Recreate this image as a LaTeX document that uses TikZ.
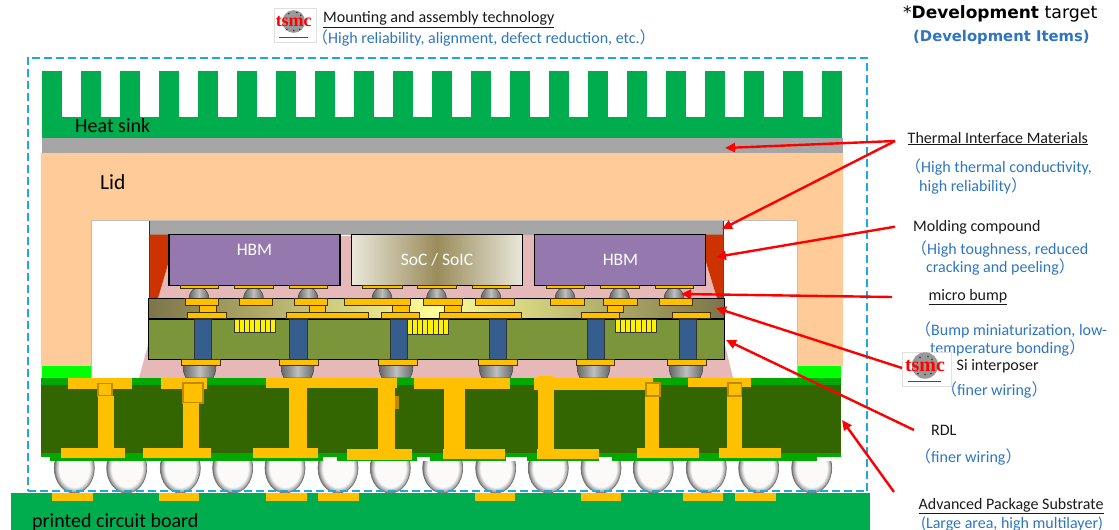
\documentclass[tikz,border=0pt]{standalone}
\usepackage{fontspec}
\usetikzlibrary{arrows.meta,shadings}
\setmainfont{Carlito}
\newfontfamily\cjkf{Noto Sans CJK JP}
\newfontfamily\devf{DejaVu Sans}
\newfontfamily\logof{Liberation Serif}
\definecolor{fingreen}{HTML}{00AD4E}
\definecolor{timgray}{HTML}{A6A6A6}
\definecolor{lidc}{HTML}{FFCB98}
\definecolor{brightg}{HTML}{00FF00}
\definecolor{pinkc}{HTML}{E6B8B7}
\definecolor{molr}{HTML}{CC3300}
\definecolor{hbmc}{HTML}{9579AE}
\definecolor{sila}{HTML}{7A953A}
\definecolor{tsvb}{HTML}{355E8F}
\definecolor{gold}{HTML}{FFC000}
\definecolor{goldd}{HTML}{C08A00}
\definecolor{maskg}{HTML}{00A800}
\definecolor{subg}{HTML}{336600}
\definecolor{dashc}{HTML}{1CA8E0}
\definecolor{bluet}{HTML}{2E75C0}
\definecolor{socl}{HTML}{E9E7DA}
\definecolor{socd}{HTML}{9A8C5A}
\definecolor{rdld}{HTML}{7C7448}
\definecolor{rdll}{HTML}{FFFF99}
\definecolor{ballw}{HTML}{FBFAF8}
\pgfdeclareradialshading{ballsh}{\pgfpoint{0bp}{0bp}}{color(0bp)=(ballw);color(19bp)=(ballw);color(24bp)=(black!40);color(25bp)=(black!60);color(50bp)=(black!60)}
\pgfdeclarehorizontalshading{bumpsh}{100bp}{color(0bp)=(black!60);color(25bp)=(black!60);color(50bp)=(black!25);color(75bp)=(black!60);color(100bp)=(black!60)}
\tikzset{
  lab/.style={anchor=base west,inner sep=0pt,font=\fontsize{16}{18}\selectfont,text=black!90},
  blab/.style={lab,text=bluet},
  big/.style={anchor=base west,inner sep=0pt,font=\fontsize{20}{22}\selectfont,text=black},
  ptr/.style={draw=red,line width=2.4pt,-{Triangle[length=10pt,width=9pt]}},
  pad/.style={fill=gold,draw=black!75!gold,line width=.9pt},
  cu/.style={fill=gold},
  sq/.style={fill=gold,draw=goldd,line width=1.2pt},
  tsv/.style={fill=tsvb,draw=black!80,line width=1pt},
  comb/.style={fill=yellow,draw=black!80,line width=.9pt},
  die/.style={draw=black,line width=1.1pt},
  diet/.style={inner sep=0pt,text=white,font=\fontsize{17.5}{18}\selectfont},
}
% #1 x, #2 y, #3 width, #4 tsmc font size, #5 node name
\newcommand{\LogoAt}[5]{%
  \begin{scope}[shift={(#1,#2)}]
  \draw[black!12,fill=white,line width=.5pt] (0,0) rectangle (#3,34);
  \fill[black!40] (#3*.47,13.5) circle ({#3*.27});
  \foreach \a/\b in {-5/-8,3/-9,-7/8,0/9,6/8,7/-6}{\fill[black!80] (#3*.47+\a,13.5+\b) circle (.9);}
  \node[inner sep=0pt,text=red] (#5) at (#3*.47,14) {\logof\bfseries\fontsize{#4}{12}\selectfont tsmc};
  \draw[red,line width=.9pt] (#3*.13,29.5) -- (#3*.8,29.5);
  \end{scope}}
\begin{document}
\begin{tikzpicture}[x=1pt,y=-1pt]
\useasboundingbox (0,0) rectangle (1119,530);
% solder balls
\foreach \c in {74.3,126.7,180.3,232.7,285,338,390.3,442.7,495.7,548.3,601,653.3,706.3,758.7,811.7}{
  \shade[shading=ballsh,draw=black!55,line width=.7pt] (\c,468) ellipse (20 and 25);
}
% heat sink
\fill[fingreen] (42,117) rectangle (842,138);
\foreach \i in {0,...,20}{\fill[fingreen] ({42+39*\i},71) rectangle ({61.7+39*\i},117);}
\fill[timgray] (42,138) rectangle (843,153);
% lid
\fill[lidc] (41,153) -- (843,153) -- (843,366) -- (41,366) -- cycle;
\fill[brightg] (41.5,366) rectangle (91.5,378);
\fill[brightg] (797,366) rectangle (841,378);
\draw[black!25,fill=white,line width=.6pt] (91.5,378) -- (91.5,220.5) -- (797,220.5) -- (797,378);
% pink underfill
\fill[pinkc] (168,234) -- (706,234) -- (717,298) -- (725,345) -- (733,378) -- (139,378) -- (148,345) -- (158,298) -- cycle;
% TIM 2
\fill[timgray] (149,220.5) rectangle (723,234.5);
\draw[black!80,line width=.8pt] (149,220.5) -- (149,298);
\draw[black!80,line width=.8pt] (723.5,220.5) -- (723.5,298);
% molding compound
\fill[molr] (149.5,234.5) -- (168,234.5) -- (168,264) -- (158,298) -- (149.5,298) -- cycle;
\fill[molr] (706,234.5) -- (723.5,234.5) -- (723.5,298) -- (717,298) -- (706,262) -- cycle;
% dies
\fill[white] (340,234.5) rectangle (352,236);
\node[die,fill=hbmc,minimum width=171pt,minimum height=51.4pt,inner sep=0pt] (hbma) at (254.5,260) {};
\shade[left color=socl,right color=socd,draw=none] (352,234.5) rectangle (437,285.7);
\shade[left color=socd,right color=socl,draw=none] (437,234.5) rectangle (522.3,285.7);
\node[die,minimum width=170.6pt,minimum height=51.4pt,inner sep=0pt] (soc) at (437,260) {};
\node[die,fill=hbmc,minimum width=171.4pt,minimum height=51.4pt,inner sep=0pt] (hbmb) at (620,260) {};
\node[diet] (t1) at (254.5,250) {HBM};
\node[diet] (t2) at (437,260) {SoC / SoIC};
\node[diet] (t3) at (620.5,260) {HBM};
% micro bumps
\foreach \a/\b in {180/218,234/273,289/327,362/402,417/456,472/510,546/584,600/639,655/693}{
  \shade[shading=bumpsh,draw=black!70,line width=.6pt] ({(\a+\b)/2-10},298.5) .. controls ({(\a+\b)/2-9},290) and ({(\a+\b)/2-5},288) .. ({(\a+\b)/2},288) .. controls ({(\a+\b)/2+5},288) and ({(\a+\b)/2+9},290) .. ({(\a+\b)/2+10},298.5) -- cycle;
  \draw[pad,line width=.7pt] (\a,285.7) rectangle (\b,288.5);
}
% RDL
\shade[left color=rdld,right color=rdll] (148.5,298.5) rectangle (436,319);
\shade[left color=rdll,right color=rdld] (436,298.5) rectangle (724.5,319);
\draw[black,line width=1.1pt] (148.5,298.5) rectangle (724.5,319);
% Si interposer
\node[draw=black,line width=1.1pt,fill=sila,minimum width=576pt,minimum height=40.5pt,inner sep=0pt] (si) at (436.5,339.3) {};
\draw[black,line width=1.6pt] (148.5,319) -- (724.5,319);
% TSV
\foreach \a/\b in {194/211,289/307,390/407,489/506,587/604,679/696}{\draw[tsv] (\a,319.5) rectangle (\b,359);}
% comb
\foreach \a/\t in {234/332.7,407/334,615/332.5}{
  \draw[comb] (\a,319) rectangle ({\a+41.5},\t);
  \foreach \k in {1,...,7}{\draw[black!80,line width=.9pt] ({\a+\k*5.2},319) -- ({\a+\k*5.2},\t);}
}
% RDL pads
\foreach \a/\b in {185/218,239/272,294/327,344/410,423/462,475/514,550/584,603/637,659/692}{\draw[pad] (\a,298) rectangle (\b,305);}
\foreach \a/\b in {199/216,309/325,392/409,444/461,607/623}{\draw[pad] (\a,305) rectangle (\b,312.5);}
\foreach \a/\b in {187/226,286/368,381/419,439/521,581/619,672/710}{\draw[pad] (\a,312.5) rectangle (\b,318.7);}
% C4 bumps
\foreach \a/\b in {183/216,281/314,379/413,479/513,577/610,669/703}{
  \shade[shading=bumpsh,draw=black!70,line width=.6pt] (\a,365.5) .. controls ({\a+.5},372) and ({\a+1},375) .. ({\a+3},378) -- ({\b-3},378) .. controls ({\b-1},375) and ({\b-.5},372) .. (\b,365.5) -- cycle;
}
\foreach \a/\b in {181/220,279/318,378/417,478/517,576/614,667/706}{\draw[pad] (\a,359) rectangle (\b,365.7);}
% substrate
\fill[maskg] (50,453) rectangle (835,460.5);
\foreach \a/\b in {323/337,417/430,506/527,599/612,817/835}{\fill[white] (\a,457) rectangle (\b,461);}
\fill[maskg] (41,378) rectangle (841,392);
\fill[subg] (41,385) rectangle (841,456.7);
\fill[maskg] (41,453) rectangle (841,457);
% copper
\fill[cu] (68,378) rectangle (131.7,388.7);
\draw[sq] (98,383.5) rectangle (112,396);
\fill[cu] (98,396) rectangle (114,448);
\fill[cu] (60.7,448) rectangle (125,458);
\fill[cu] (160.7,378) rectangle (207,388.7);
\draw[sq] (183,383) rectangle (203,403);
\fill[cu] (183,403) rectangle (198.7,448);
\fill[cu] (143,448) rectangle (210.7,458);
\fill[cu] (266,378) rectangle (397,388);
\fill[cu] (288.7,388) rectangle (306.7,448);
\fill[cu] (253,448) rectangle (317.7,458);
\fill[cu] (377.7,388) rectangle (395,449);
\fill[cu] (347,449) rectangle (412,459.5);
\fill[goldd] (395,396) rectangle (399,409);
\fill[cu] (414,378) rectangle (510,388.7);
\fill[cu] (444,388) rectangle (464.7,450);
\fill[cu] (443,449) rectangle (505,459);
\fill[cu] (534,378) rectangle (653,390);
\fill[cu] (538,376) rectangle (554,450);
\fill[cu] (537,449) rectangle (599,459);
\fill[cu] (644.5,396) rectangle (658.7,448);
\draw[sq] (646,383) rectangle (660,396);
\fill[cu] (637,448) rectangle (699,458);
\fill[cu] (688,378) rectangle (750.7,386.7);
\fill[cu] (727,396) rectangle (742.3,448);
\draw[sq] (728,383) rectangle (741.7,396);
\fill[cu] (719,448) rectangle (781,458);
% PCB
\fill[fingreen] (11,493) rectangle (870,530);
\foreach \a/\b in {52/93,159/199,266/307,318/359,475/515,581/621,683/723,735/776}{\fill[cu] (\a,493) rectangle (\b,501);}
% dashed outline
\node[draw=dashc,dash pattern=on 8pt off 4pt,line width=1.8pt,minimum width=839.5pt,minimum height=433.5pt,inner sep=0pt] (frame) at (447.5,274.5) {};
% body labels
\node[big] (hs) at (75,132.5) {Heat sink};
\node[big,font=\fontsize{21.5}{22}\selectfont] (lid) at (100,189) {Lid};
\node[big] (pcb) at (32,527) {printed circuit board};
% top labels
\LogoAt{274}{8}{42}{18}{lgt}
\node[lab] (mnt) at (323,23) {\underline{Mounting and assembly technology}};
\node[blab] (mntb) at (312,43) {{\cjkf （}High reliability, alignment, defect reduction, etc.{\cjkf ）}};
\node[anchor=base west,inner sep=0pt,font=\devf\fontsize{17}{18}\selectfont] (dev) at (903,19) {*\textbf{Development} {\fontsize{17.4}{18}\selectfont target}};
\node[anchor=base west,inner sep=0pt,font=\devf\fontsize{14.8}{18}\selectfont\bfseries,text=bluet] (devb) at (913,41.5) {(Development Items)};
% right labels
\node[lab] (tim) at (907.5,143) {\underline{Thermal Interface Materials}};
\node[blab] (tima) at (905,172) {{\cjkf （}High thermal conductivity,};
\node[blab] (timb) at (919,191) {high reliability{\cjkf ）}};
\node[lab] (mc) at (913,231) {Molding compound};
\node[blab] (mca) at (911,254) {{\cjkf （}High toughness, reduced};
\node[blab] (mcb) at (926,272) {cracking and peeling{\cjkf ）}};
\node[lab] (mb) at (928.5,300) {\underline{micro bump}};
\node[blab] (mba) at (915,335) {{\cjkf （}Bump miniaturization, low-};
\node[blab] (mbb) at (930,353) {temperature bonding{\cjkf ）}};
\LogoAt{902}{352}{49}{20}{lgb}
\node[lab] (si2) at (956.5,370) {Si interposer};
\node[blab] (sia) at (941,395) {{\cjkf （}finer wiring{\cjkf ）}};
\node[lab] (rdl) at (931,435) {RDL};
\node[blab] (rdla) at (915,462) {{\cjkf （}finer wiring{\cjkf ）}};
\node[lab] (aps) at (918.5,509) {\underline{Advanced Package Substrate}};
\node[blab] (apsb) at (921,528) {\underline{(Large area, high multilayer)}};
% connectors
\coordinate (f1) at (895,141);
\coordinate (a1) at (725,148);
\coordinate (a2) at (722,229);
\coordinate (f3) at (895,226.7);
\coordinate (a3) at (716,257);
\coordinate (f4) at (892,297);
\coordinate (a4) at (681,294);
\coordinate (f5) at (902,368);
\coordinate (a5) at (716,308);
\coordinate (f6) at (914,430);
\coordinate (a6) at (726,340);
\coordinate (f7) at (894,492);
\coordinate (a7) at (842,420);
\draw[ptr] (f1) -- (a1);
\draw[ptr] (f1) -- (a2);
\draw[ptr] (f3) -- (a3);
\draw[ptr] (f4) -- (a4);
\draw[ptr] (f5) -- (a5);
\draw[ptr] (f6) -- (a6);
\draw[ptr] (f7) -- (a7);
\end{tikzpicture}
\end{document}
